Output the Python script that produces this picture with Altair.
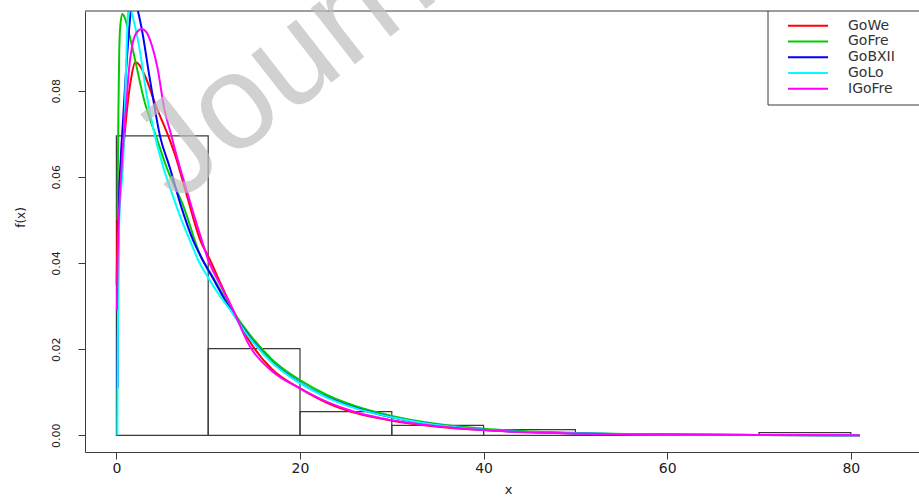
import altair as alt
import pandas as pd

# ---------------- data ----------------
series_names = ["GoWe", "GoFre", "GoBXII", "GoLo", "IGoFre"]
series_colors = ["#FF0000", "#00CD00", "#0000FF", "#00FFFF", "#FF00FF"]

gowe_x = [0.03, 0.12, 0.3, 0.55, 0.86, 1.2, 1.6, 2.05, 2.5, 3.2, 4.3, 5.65, 6.4, 7.7, 9.1, 10.2,
          11.4, 12.7, 14.55, 17, 20, 23, 26, 30, 35, 40, 45, 50, 60, 70, 81]
gowe_y = [0.035, 0.05, 0.058, 0.062, 0.069, 0.0765, 0.0828, 0.0866, 0.086, 0.083, 0.0765, 0.0695,
          0.065, 0.0555, 0.0455, 0.0407, 0.035, 0.0291, 0.0217, 0.0152, 0.0109, 0.0075, 0.0052,
          0.0034, 0.002, 0.0012, 0.0007, 0.0004, 0.00015, 0.00006, 0.00002]

gofre_x = [0.12, 0.15, 0.22, 0.3, 0.42, 0.64, 0.9, 1.3, 2.0, 3.0, 4.3, 5.5, 7.25, 9.2, 10.5, 12.4,
           14.55, 17, 20, 23, 26, 30, 35, 40, 45, 50, 60, 70, 81]
gofre_y = [0.05, 0.06, 0.075, 0.088, 0.095, 0.0978, 0.097, 0.094, 0.0875, 0.078, 0.0695, 0.062,
           0.0535, 0.0415, 0.0368, 0.0298, 0.0233, 0.0175, 0.0128, 0.0093, 0.0068, 0.0045, 0.0026,
           0.0015, 0.0009, 0.00055, 0.0002, 0.00008, 0.00003]

gobxii_x = [0.12, 0.2, 0.3, 0.47, 0.75, 1.0, 1.3, 1.55, 1.8, 2.2, 2.7, 3.66, 4.75, 5.84, 7.0, 8.35,
            9.4, 10.5, 12.4, 14.55, 17, 20, 23, 26, 30, 35, 40, 45, 50, 60, 70, 81]
gobxii_y = [0.011, 0.04, 0.055, 0.064, 0.074, 0.083, 0.092, 0.098, 0.1005, 0.0995, 0.095, 0.0825,
            0.0695, 0.062, 0.0535, 0.0453, 0.0407, 0.0365, 0.0293, 0.0227, 0.0169, 0.0122, 0.0088,
            0.0064, 0.0042, 0.0024, 0.0013, 0.00075, 0.00045, 0.00016, 0.00006, 0.00002]

golo_x = [0.1, 0.15, 0.22, 0.35, 0.55, 0.75, 0.95, 1.1, 1.3, 1.45, 1.8, 2.5, 3.3, 4.2, 5, 6, 7, 8,
          8.9, 10, 11, 12.4, 14.55, 17, 20, 23, 26, 30, 35, 40, 45, 50, 60, 70, 81]
golo_y = [0.0, 0.02, 0.04, 0.052, 0.058, 0.064, 0.078, 0.089, 0.0985, 0.0995, 0.097, 0.09, 0.079,
          0.0695, 0.063, 0.0565, 0.0505, 0.0453, 0.0407, 0.0366, 0.0332, 0.0291, 0.0225, 0.0168,
          0.0121, 0.0087, 0.0063, 0.0042, 0.0024, 0.0013, 0.00075, 0.00045, 0.00016, 0.00006,
          0.00002]

igofre_x = [0.05, 0.15, 0.3, 0.5, 0.8, 1.12, 1.35, 1.7, 2.2, 2.75, 3.3, 3.66, 4.5, 5.2, 6.0, 6.4,
            7.5, 9.3, 10.0, 11.3, 12.7, 14.55, 17, 20, 23, 26, 30, 35, 40, 45, 50, 60, 70, 81]
igofre_y = [0.029, 0.042, 0.052, 0.06, 0.07, 0.078, 0.0845, 0.0903, 0.0935, 0.0943, 0.0935,
            0.0918, 0.085, 0.076, 0.0695, 0.0662, 0.058, 0.0453, 0.0407, 0.035, 0.0291, 0.0206,
            0.0148, 0.0109, 0.0077, 0.0054, 0.0035, 0.0021, 0.0012, 0.0007, 0.0004, 0.00016,
            0.00007, 0.00003]

bin_left = [0, 10, 20, 30, 40, 50, 60, 70]
bin_right = [10, 20, 30, 40, 50, 60, 70, 80]
bin_density = [0.0695, 0.0201, 0.0055, 0.0023, 0.0013, 0.0, 0.0, 0.0006]

x_ticks = [0, 20, 40, 60, 80]
y_ticks = [0.00, 0.02, 0.04, 0.06, 0.08]
watermark_text = "Journal Pre-proof"

# ---------------- tables ----------------
curve_xs = [gowe_x, gofre_x, gobxii_x, golo_x, igofre_x]
curve_ys = [gowe_y, gofre_y, gobxii_y, golo_y, igofre_y]
rows = []
for name, xs, ys in zip(series_names, curve_xs, curve_ys):
    for i, (a, b) in enumerate(zip(xs, ys)):
        rows.append({"series": name, "x": a, "y": b, "i": i})
curves = pd.DataFrame(rows)

hist = pd.DataFrame({"left": bin_left, "right": bin_right, "density": bin_density,
                     "base": [0.0] * len(bin_left)})

# ---------------- layout ----------------
W, H = 834, 441
FONT = "DejaVu Sans"
INK = "#3a3a3a"
xscale = alt.Scale(domain=[-3.42, 87.43], nice=False, zero=False)
yscale = alt.Scale(domain=[-0.00388, 0.0985], nice=False, zero=False)

xaxis = alt.Axis(values=x_ticks, format="d", title="x", grid=False, domainColor=INK,
                 tickColor=INK, tickSize=7, labelFont=FONT, labelFontSize=14,
                 labelColor="#222222", labelPadding=2, labelFlush=False, labelOverlap=False,
                 titleFont=FONT, titleFontSize=13, titleFontWeight="normal",
                 titleColor="#222222", titleX=423, titleY=37, titleBaseline="middle",
                 titleAlign="center")
yaxis = alt.Axis(values=y_ticks, format=".2f", title="f(x)", grid=False, domainColor=INK,
                 tickColor=INK, tickSize=7, labelFont=FONT, labelFontSize=11,
                 labelColor="#222222", labelAngle=270, labelAlign="center",
                 labelBaseline="middle", labelPadding=22, labelFlush=False,
                 labelOverlap=False, titleFont=FONT, titleFontSize=12,
                 titleFontWeight="normal", titleColor="#222222", titleX=-65, titleY=206,
                 titleAngle=270, titleAlign="center", titleBaseline="middle")

hist_layer = alt.Chart(hist).mark_rect(fill="transparent", stroke=INK, strokeWidth=1.2).encode(
    x=alt.X("left:Q", scale=xscale, axis=xaxis),
    x2="right:Q",
    y=alt.Y("base:Q", scale=yscale, axis=yaxis),
    y2="density:Q",
)

layers = [hist_layer]
for name, col in zip(series_names, series_colors):
    layers.append(
        alt.Chart(curves).transform_filter(alt.datum.series == name)
        .mark_line(color=col, strokeWidth=2, clip=True, interpolate="monotone")
        .encode(x=alt.X("x:Q", scale=xscale), y=alt.Y("y:Q", scale=yscale), order="i:Q")
    )

one = pd.DataFrame({"k": [0]})
layers.append(alt.Chart(one).mark_rule(color=INK, strokeWidth=1).encode(
    x=alt.value(0), x2=alt.value(W), y=alt.value(0)))

# legend box (top right, cut by the right edge like the reference)
LX, LTOP, LSTEP = 683, 14.7, 15.75
layers.append(alt.Chart(one).mark_rect(fill="white", stroke=INK, strokeWidth=1, clip=True).encode(
    x=alt.value(LX), x2=alt.value(W + 30), y=alt.value(0), y2=alt.value(94)))
for i, (name, col) in enumerate(zip(series_names, series_colors)):
    yy = LTOP + i * LSTEP
    layers.append(alt.Chart(one).mark_rule(color=col, strokeWidth=2).encode(
        x=alt.value(LX + 20), x2=alt.value(LX + 60), y=alt.value(yy)))
    layers.append(alt.Chart(pd.DataFrame({"t": [name]})).mark_text(
        align="left", baseline="middle", font=FONT, fontSize=14, color="#333333", clip=True
    ).encode(x=alt.value(LX + 80), y=alt.value(yy), text="t:N"))

# watermark
layers.append(alt.Chart(pd.DataFrame({"t": [watermark_text]})).mark_text(
    angle=322, fontSize=135, font="Liberation Sans", color="#bebebe", opacity=0.7,
    align="left", baseline="alphabetic"
).encode(x=alt.value(91), y=alt.value(193), text="t:N"))

chart = alt.layer(*layers).properties(
    width=W, height=H,
    padding={"left": 85, "top": 11, "right": 0, "bottom": 45},
    autosize=alt.AutoSizeParams(type="none"),
    background="white",
).configure_view(stroke=None)

chart.save("out.html", embed_options={"renderer": "svg", "actions": False})
